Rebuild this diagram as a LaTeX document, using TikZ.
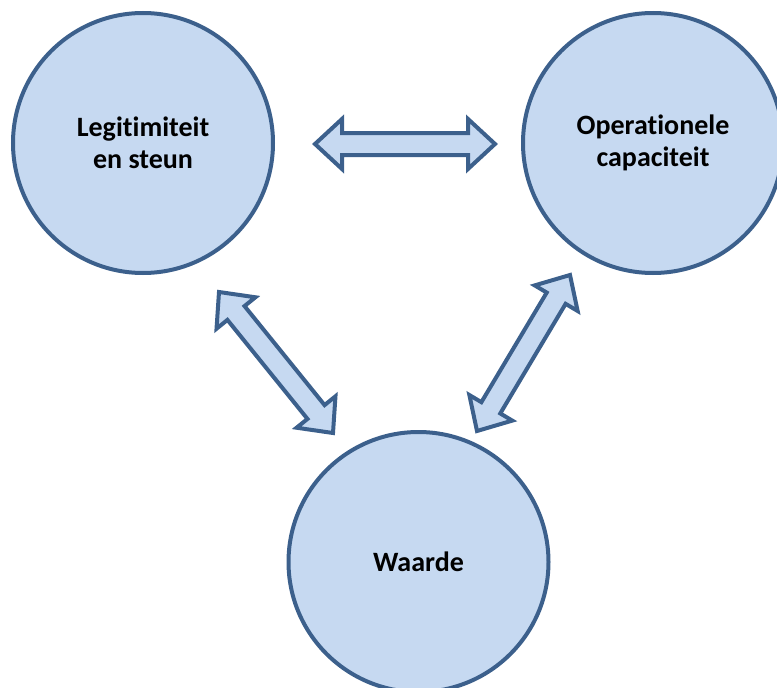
\documentclass[tikz,border=0pt]{standalone}
\usepackage{fontspec}
\setmainfont{Carlito}[Ligatures=NoCommon]
\usetikzlibrary{calc}

\definecolor{ringblue}{HTML}{3C608C}
\definecolor{fillblue}{HTML}{C6D9F1}

% Double-headed block arrow between two named coordinates
\newcommand\twowayarrow[2]{%
  \draw[blockarrow]
    (#1)
    -- ($(#1)!27pt!(#2)!25pt!90:(#2)$)
    -- ($(#1)!27pt!(#2)!11pt!90:(#2)$)
    -- ($(#2)!27pt!(#1)!11pt!-90:(#1)$)
    -- ($(#2)!27pt!(#1)!25pt!-90:(#1)$)
    -- (#2)
    -- ($(#2)!27pt!(#1)!25pt!90:(#1)$)
    -- ($(#2)!27pt!(#1)!11pt!90:(#1)$)
    -- ($(#1)!27pt!(#2)!11pt!-90:(#2)$)
    -- ($(#1)!27pt!(#2)!25pt!-90:(#2)$)
    -- cycle;}

\begin{document}
\begin{tikzpicture}[x=1pt,y=-1pt,
  bubble/.style={circle, draw=ringblue, fill=fillblue, line width=4pt,
    minimum size=260pt, inner sep=0pt, align=center,
    font=\bfseries\fontsize{28}{32}\selectfont},
  blockarrow/.style={draw=ringblue, fill=fillblue, line width=4pt, line join=miter}]
  \clip (0,0) rectangle (777,688);

  \node[bubble] (legit) at (143,143) {Legitimiteit\\en steun};
  \node[bubble] (oper)  at (653,143) {Operationele\\capaciteit};
  \node[bubble] (waarde) at (418.5,562) {Waarde};

  % arrow end points
  \coordinate (h1) at (315,144);
  \coordinate (h2) at (495,144);
  \coordinate (l1) at (219,292);
  \coordinate (l2) at (333,433);
  \coordinate (r1) at (570,275);
  \coordinate (r2) at (477,431);

  \twowayarrow{h1}{h2}
  \twowayarrow{l1}{l2}
  \twowayarrow{r1}{r2}
\end{tikzpicture}
\end{document}
